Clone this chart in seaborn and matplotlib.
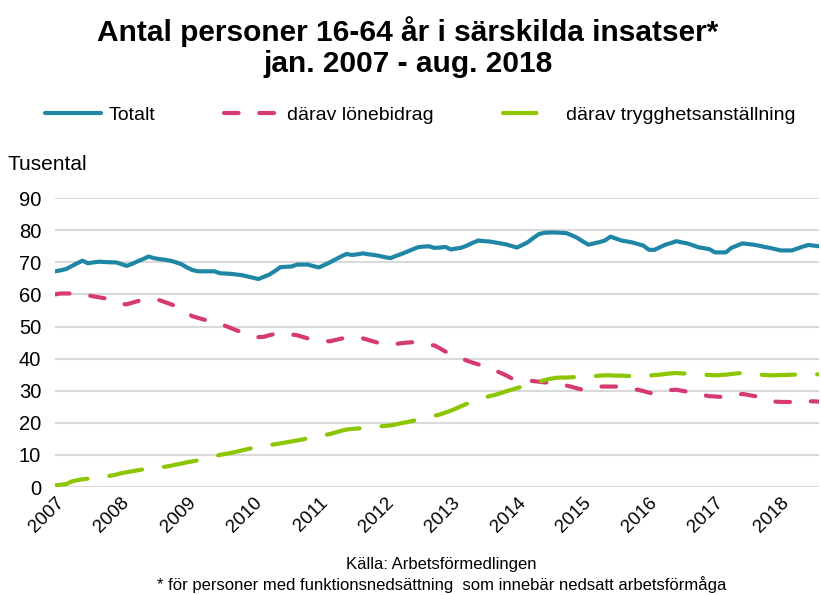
import numpy as np
import pandas as pd
import matplotlib
matplotlib.use('Agg')
import matplotlib.pyplot as plt
import seaborn as sns

# månadsvärden jan 2007 - aug 2018 (tusental)
totalt = [
    67.2, 67.5, 67.9, 68.8, 69.7, 70.5, 69.7, 70.0, 70.2, 70.1, 70.0, 70.0,
    69.5, 68.9, 69.5, 70.3, 71.0, 71.8, 71.3, 71.0, 70.8, 70.5, 70.0, 69.4,
    68.4, 67.6, 67.2, 67.2, 67.2, 67.2, 66.6, 66.5, 66.4, 66.2, 66.0, 65.6,
    65.2, 64.8, 65.5, 66.2, 67.3, 68.5, 68.6, 68.7, 69.3, 69.3, 69.3, 68.8,
    68.4, 69.2, 70.0, 70.9, 71.8, 72.6, 72.3, 72.5, 72.8, 72.5, 72.3, 72.0,
    71.6, 71.3, 72.0, 72.6, 73.3, 74.0, 74.7, 74.9, 75.0, 74.5, 74.6, 74.8,
    74.0, 74.3, 74.6, 75.3, 76.1, 76.8, 76.6, 76.5, 76.2, 75.9, 75.6, 75.1,
    74.6, 75.4, 76.3, 77.6, 78.8, 79.2, 79.3, 79.3, 79.2, 79.1, 78.4, 77.6,
    76.5, 75.5, 75.9, 76.3, 76.8, 78.0, 77.4, 76.8, 76.5, 76.2, 75.7, 75.2,
    73.9, 73.9, 74.7, 75.5, 76.0, 76.6, 76.2, 75.9, 75.3, 74.7, 74.4, 74.1,
    73.1, 73.1, 73.1, 74.5, 75.2, 75.9, 75.7, 75.5, 75.2, 74.8, 74.5, 74.1,
    73.7, 73.7, 73.7, 74.3, 74.9, 75.4, 75.2, 75.0,
]
lonebidrag = [
    60.0, 60.3, 60.3, 60.3, 60.1, 59.9, 59.7, 59.4, 59.1, 58.8, 58.2, 57.6,
    57.1, 56.9, 57.4, 57.9, 58.3, 58.4, 58.3, 58.2, 57.6, 57.0, 56.3, 55.3,
    54.2, 53.2, 52.7, 52.2, 51.7, 51.2, 50.7, 50.2, 49.5, 48.8, 48.2, 47.6,
    47.1, 46.7, 46.8, 47.3, 47.7, 47.7, 47.6, 47.5, 47.3, 46.8, 46.3, 46.0,
    45.7, 45.5, 45.4, 45.8, 46.2, 46.6, 46.6, 46.5, 46.3, 45.8, 45.3, 44.8,
    44.7, 44.6, 44.6, 44.8, 45.0, 45.1, 44.9, 44.6, 44.3, 44.1, 43.2, 42.2,
    41.3, 40.6, 40.0, 39.3, 38.7, 38.2, 37.6, 37.0, 36.3, 35.6, 34.8, 33.9,
    33.3, 33.2, 33.1, 33.0, 32.8, 32.6, 32.5, 32.2, 31.9, 31.6, 31.2, 30.7,
    30.3, 30.5, 30.9, 31.3, 31.3, 31.3, 31.3, 31.1, 30.8, 30.5, 30.3, 29.9,
    29.4, 29.0, 29.4, 29.8, 30.2, 30.3, 30.0, 29.7, 29.3, 28.9, 28.6, 28.3,
    28.2, 28.1, 28.0, 28.3, 28.7, 29.0, 28.7, 28.4, 28.1, 27.6, 27.1, 26.6,
    26.5, 26.5, 26.5, 26.5, 26.6, 26.7, 26.7, 26.6,
]
trygghet = [
    0.5, 0.7, 0.9, 1.7, 2.1, 2.4, 2.6, 2.8, 3.0, 3.3, 3.5, 3.8,
    4.3, 4.6, 4.9, 5.2, 5.5, 5.7, 5.9, 6.1, 6.3, 6.6, 7.0, 7.3,
    7.7, 8.0, 8.3, 8.6, 9.1, 9.6, 10.0, 10.3, 10.6, 11.0, 11.4, 11.8,
    12.2, 12.5, 12.8, 13.1, 13.3, 13.6, 13.9, 14.2, 14.5, 14.8, 15.2, 15.6,
    15.9, 16.2, 16.5, 17.0, 17.5, 17.9, 18.1, 18.2, 18.4, 18.6, 18.7, 18.9,
    19.0, 19.2, 19.5, 19.9, 20.2, 20.6, 21.0, 21.4, 21.8, 22.2, 22.6, 23.2,
    23.8, 24.5, 25.3, 26.0, 26.8, 27.4, 27.8, 28.3, 28.7, 29.2, 29.8, 30.3,
    30.8, 31.3, 31.8, 32.3, 32.8, 33.3, 33.7, 34.0, 34.1, 34.1, 34.2, 34.3,
    34.3, 34.4, 34.5, 34.7, 34.8, 34.8, 34.7, 34.7, 34.6, 34.6, 34.6, 34.6,
    34.7, 34.9, 35.0, 35.2, 35.4, 35.5, 35.4, 35.3, 35.2, 35.1, 35.0, 34.9,
    34.8, 34.9, 35.0, 35.2, 35.4, 35.5, 35.3, 35.1, 35.0, 34.9, 34.8, 34.8,
    34.9, 34.9, 35.0, 35.0, 35.1, 35.1, 35.1, 35.1,
]
ar = [str(a) for a in range(2007, 2019)]

df = pd.DataFrame({'manad': np.arange(len(totalt)),
                   'Totalt': totalt,
                   'därav lönebidrag': lonebidrag,
                   'därav trygghetsanställning': trygghet})

sns.set_theme(style='white')
plt.rcParams['font.family'] = ['Liberation Sans', 'DejaVu Sans']
plt.rcParams['text.color'] = 'black'

fig = plt.figure(figsize=(8.21, 5.95), dpi=100)
ax = fig.add_axes([0.067, 0.1815, 0.931, 0.4855])

sns.lineplot(data=df, x='manad', y='Totalt', ax=ax, color='#1f87a5', lw=3,
             label='Totalt', solid_capstyle='round')
sns.lineplot(data=df, x='manad', y='därav lönebidrag', ax=ax, color='#d63a74',
             lw=3, label='därav lönebidrag', dashes=False)
sns.lineplot(data=df, x='manad', y='därav trygghetsanställning', ax=ax,
             color='#8cc600', lw=3, label='därav trygghetsanställning', dashes=False)
ax.lines[1].set_dashes((3.5, 5))
ax.lines[1].set_dash_capstyle('round')
ax.lines[2].set_dashes((8, 5.3))
ax.lines[2].set_dash_capstyle('round')

ax.set_xlim(0, len(totalt) - 1)
ax.set_ylim(0, 90)
ax.set_yticks(range(0, 91, 10))
ax.set_xticks(range(0, len(totalt), 12))
ax.set_xticklabels(ar, rotation=45, ha='right', rotation_mode='anchor')
ax.tick_params(axis='y', labelsize=14.5, pad=10, length=0, colors='black')
ax.tick_params(axis='x', labelsize=13.5, pad=5, length=0, colors='black')
ax.yaxis.grid(True, color='#d9d9d9', lw=1.5)
ax.set_axisbelow(True)
for s in ax.spines.values():
    s.set_visible(False)
ax.set_xlabel('')
ax.set_ylabel('')

handles, labels = ax.get_legend_handles_labels()
ax.legend_.remove()
fig.legend(handles, labels, loc='center left', bbox_to_anchor=(0.055, 1 - 115 / 595),
           ncol=3, frameon=False, fontsize=14, handlelength=2.85, handletextpad=0.4,
           columnspacing=3.55, borderpad=0, borderaxespad=0)

fig.text(0.497, 1 - 47 / 595, 'Antal personer 16-64 år i särskilda insatser*\njan. 2007 - aug. 2018',
         ha='center', va='center', fontsize=21.5, fontweight='bold', linespacing=1.1)
fig.text(8 / 821, 1 - 165 / 595, 'Tusental', ha='left', va='center', fontsize=15)
fig.text(441 / 821, 1 - 565 / 595, 'Källa: Arbetsförmedlingen', ha='center', va='center', fontsize=12)
fig.text(442 / 821, 1 - 585 / 595, '* för personer med funktionsnedsättning  som innebär nedsatt arbetsförmåga',
         ha='center', va='center', fontsize=12)

fig.savefig('out.png', dpi=100)
